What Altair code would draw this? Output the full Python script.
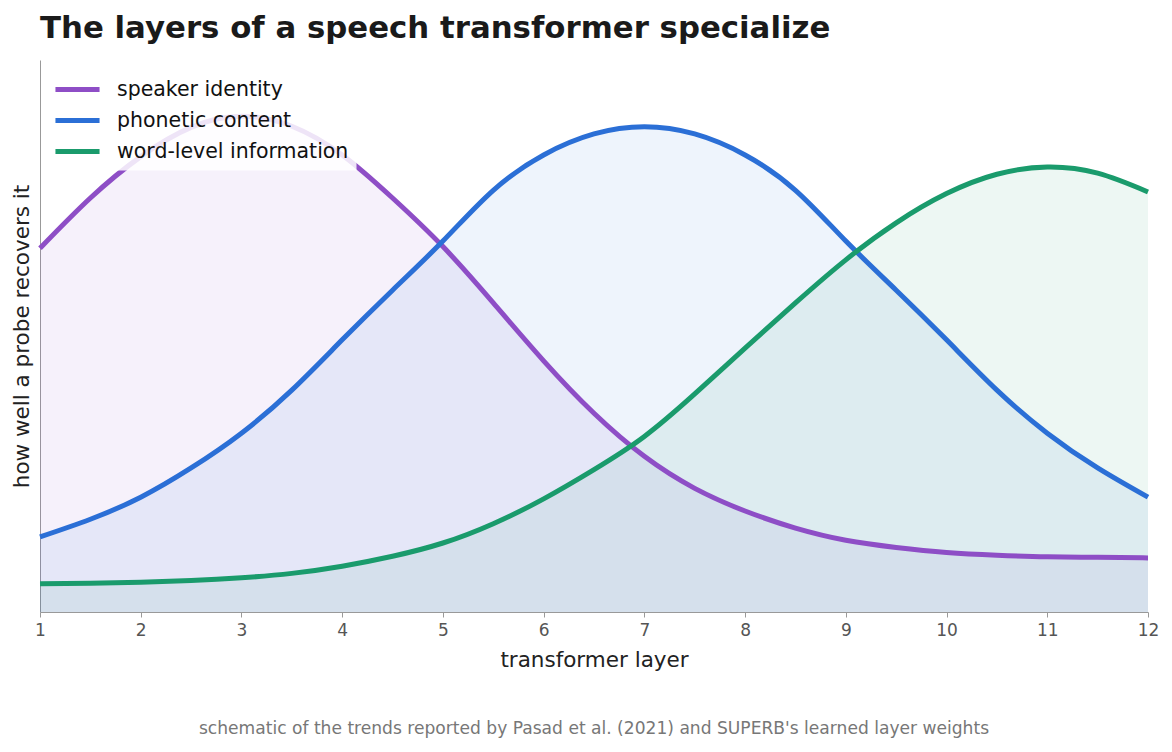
import altair as alt
import pandas as pd

LAYERS = [1, 1.5, 2, 2.5, 3, 3.5, 4, 4.5, 5, 5.5, 6, 6.5, 7, 7.5, 8, 8.5, 9, 9.5, 10, 10.5, 11, 11.5, 12]

SPEAKER = [0.659, 0.750, 0.825, 0.878, 0.898, 0.880, 0.828, 0.750, 0.662, 0.560, 0.455, 0.360,
           0.282, 0.224, 0.183, 0.152, 0.130, 0.117, 0.108, 0.103, 0.100, 0.099, 0.098]
PHONETIC = [0.136, 0.168, 0.208, 0.261, 0.324, 0.402, 0.493, 0.583, 0.672, 0.764, 0.828, 0.866,
            0.879, 0.866, 0.828, 0.764, 0.672, 0.583, 0.493, 0.402, 0.324, 0.261, 0.208]
WORD = [0.051, 0.052, 0.054, 0.057, 0.062, 0.070, 0.083, 0.101, 0.125, 0.160, 0.205, 0.258,
        0.318, 0.395, 0.478, 0.560, 0.638, 0.705, 0.758, 0.793, 0.806, 0.795, 0.761]

SERIES = ["speaker identity", "phonetic content", "word-level information"]
COLORS = ["#8e4ec6", "#2b6fd6", "#1a9b6c"]

TITLE = "The layers of a speech transformer specialize"
CAPTION = "schematic of the trends reported by Pasad et al. (2021) and SUPERB's learned layer weights"
FONT = "DejaVu Sans"

df = pd.concat(
    [
        pd.DataFrame({"layer": LAYERS, "score": vals, "series": name})
        for name, vals in zip(SERIES, [SPEAKER, PHONETIC, WORD])
    ],
    ignore_index=True,
)

# a wider-than-unit stroke path keeps long legend lines without tall legend rows
color = alt.Color(
    "series:N",
    sort=SERIES,
    scale=alt.Scale(domain=SERIES, range=COLORS),
    legend=alt.Legend(
        title=None,
        orient="none",
        legendX=9.5,
        legendY=1.5,
        symbolType="M-1.26,0H1.26",
        symbolSize=1225,
        symbolStrokeWidth=5,
        symbolOpacity=1,
        labelFontSize=20.5,
        labelFont=FONT,
        labelColor="#111",
        labelOffset=19.5,
        labelLimit=500,
        rowPadding=0,
        padding=8,
        fillColor="rgba(255,255,255,0.85)",
    ),
)

base = alt.Chart(df).encode(
    x=alt.X(
        "layer:Q",
        title="transformer layer",
        scale=alt.Scale(domain=[1, 12], nice=False, zero=False),
        axis=alt.Axis(
            values=list(range(1, 13)),
            format="d",
            grid=False,
            labelFlush=False,
            domainColor="#999",
            tickColor="#999",
            tickSize=5,
            labelFontSize=17,
            labelColor="#555",
            labelPadding=5,
            labelFont=FONT,
            titleFont=FONT,
            titleFontSize=21.5,
            titleFontWeight="normal",
            titleColor="#222",
            titlePadding=11,
        ),
    ),
    y=alt.Y(
        "score:Q",
        title="how well a probe recovers it",
        stack=None,
        scale=alt.Scale(domain=[0, 1], nice=False),
        axis=alt.Axis(
            labels=False,
            ticks=False,
            grid=False,
            domainColor="#999",
            titleFont=FONT,
            titleFontSize=21.5,
            titleFontWeight="normal",
            titleColor="#222",
            titlePadding=7,
        ),
    ),
    color=color,
)

areas = base.mark_area(opacity=0.08, interpolate="natural")
lines = base.mark_line(strokeWidth=5, interpolate="natural")

caption = alt.Chart(pd.DataFrame({"t": [CAPTION]})).mark_text(
    font=FONT, fontSize=17.1, color="#777", align="center", baseline="middle"
).encode(x=alt.value(554), y=alt.value(669), text="t:N")

chart = (
    alt.layer(areas, lines, caption)
    .properties(
        width=1108,
        height=552,
        padding={"left": 32, "top": 52, "right": 16, "bottom": 134},
        autosize=alt.AutoSizeParams(type="none"),
        title=alt.TitleParams(
            TITLE,
            anchor="start",
            frame="group",
            font=FONT,
            fontSize=30.8,
            fontWeight="bold",
            color="#1a1a1a",
            offset=15,
        ),
    )
    .configure_view(stroke=None)
)

chart.save("out.html", embed_options={"renderer": "svg", "actions": False})
